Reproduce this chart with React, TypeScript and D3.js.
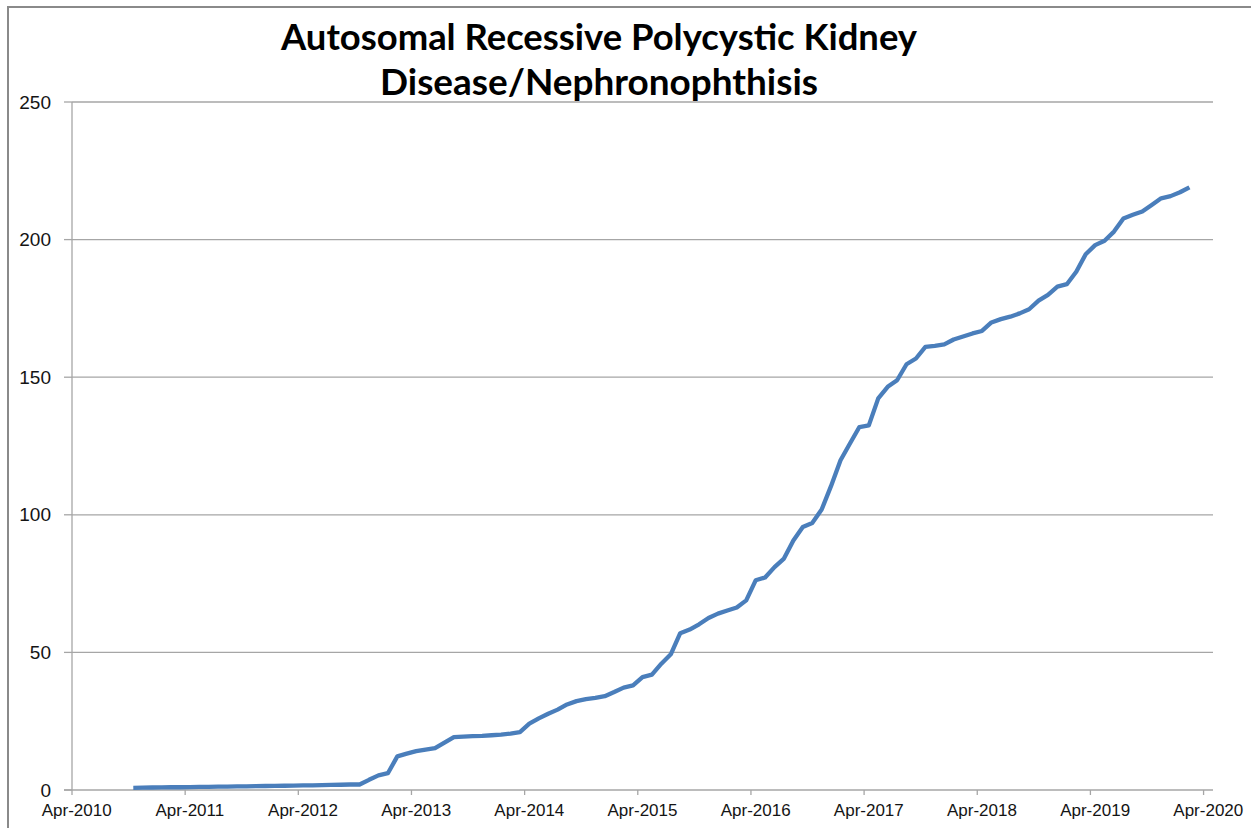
import React from "react";
import * as d3 from "d3";

const titleLines = ["Autosomal Recessive Polycystic Kidney", "Disease/Nephronophthisis"];
const axisStart = "2010-04";
const firstMonth = "2010-10";
const xTickLabels = ["Apr-2010", "Apr-2011", "Apr-2012", "Apr-2013", "Apr-2014", "Apr-2015", "Apr-2016", "Apr-2017", "Apr-2018", "Apr-2019", "Apr-2020"];
const yTicks = [0, 50, 100, 150, 200, 250];
const values = [
  0.8, 0.85, 0.9, 0.95, 1.0, 1.0, 1.05, 1.1, 1.15, 1.2, 1.25, 1.3, 1.35, 1.4, 1.45, 1.5, 1.55, 1.6, 1.65, 1.7,
  1.8, 1.85, 1.9, 2.0, 2.0, 3.7, 5.3, 6.1, 12.2, 13.2, 14.1, 14.7, 15.2, 17.2, 19.2, 19.4, 19.6, 19.7, 19.9, 20.1,
  20.5, 21.0, 24.1, 26.0, 27.7, 29.2, 31.1, 32.3, 33.0, 33.5, 34.1, 35.6, 37.2, 38.0, 41.0, 41.9, 45.9, 49.3, 57.0, 58.3,
  60.2, 62.5, 64.1, 65.2, 66.3, 68.9, 76.2, 77.2, 81.0, 84.1, 90.7, 95.6, 97.0, 101.9, 110.5, 119.8, 125.9, 131.9, 132.5, 142.3,
  146.5, 148.9, 154.7, 156.8, 161.0, 161.4, 161.9, 163.7, 164.8, 165.9, 166.8, 169.9, 171.1, 172.0, 173.2, 174.7, 177.8, 179.9, 182.9, 183.8,
  188.3, 194.7, 198.0, 199.6, 202.9, 207.7, 209.0, 210.2, 212.6, 215.0, 215.8, 217.2, 219.0,
];

export default function App() {
  const W = 1251, H = 828;
  const parse = d3.timeParse("%Y-%m");
  const start = parse(axisStart)!;
  const first = parse(firstMonth)!;
  const offset = d3.timeMonth.count(start, first);
  const totalMonths = (xTickLabels.length - 1) * 12 + 1;

  const x = d3.scaleLinear().domain([0, totalMonths]).range([72, 1213]);
  const y = d3.scaleLinear().domain([0, 250]).range([790, 102]);

  const data = values.map((v, i) => ({ m: offset + i, v }));
  const line = d3.line<{ m: number; v: number }>()
    .x((d) => x(d.m + 0.5))
    .y((d) => y(d.v));

  const textColor = "#141414";
  const font = "'Liberation Sans', Arial, sans-serif";

  return (
    <svg width={W} height={H} style={{ position: "absolute", left: 0, top: 0, background: "#fff" }}>
      <rect x={8} y={7} width={1300} height={900} fill="#fff" stroke="#8a8a8a" strokeWidth={2} />
      {titleLines.map((t, i) => (
        <text
          key={t}
          x={599}
          y={50 + i * 45}
          textAnchor="middle"
          fontFamily="Lato, 'Open Sans', sans-serif"
          fontWeight={700}
          fontSize={36}
          fill="#000"
          textLength={i === 0 ? 636 : 438}
          lengthAdjust="spacingAndGlyphs"
        >
          {t}
        </text>
      ))}
      {yTicks.map((t) => (
        <g key={t}>
          {t > 0 && (
            <line x1={72} x2={1213} y1={y(t)} y2={y(t)} stroke="#a6a6a6" strokeWidth={1.3} />
          )}
          <line x1={64} x2={72} y1={y(t)} y2={y(t)} stroke="#a6a6a6" strokeWidth={1.3} />
          <text x={51} y={y(t) + 6.5} textAnchor="end" fontFamily={font} fontSize={19} fill={textColor}>
            {t}
          </text>
        </g>
      ))}
      <line x1={72} x2={72} y1={102} y2={790} stroke="#a6a6a6" strokeWidth={1.3} />
      <line x1={64} x2={1213} y1={790} y2={790} stroke="#a6a6a6" strokeWidth={1.3} />
      {xTickLabels.map((lab, i) => (
        <g key={lab}>
          <line x1={x(i * 12)} x2={x(i * 12)} y1={790} y2={795} stroke="#a6a6a6" strokeWidth={1.3} />
          <text x={x(i * 12 + 0.5)} y={816} textAnchor="middle" fontFamily={font} fontSize={17} fill={textColor}>
            {lab}
          </text>
        </g>
      ))}
      <path d={line(data) || ""} fill="none" stroke="#4a7ebb" strokeWidth={4.3} strokeLinejoin="round" />
    </svg>
  );
}
